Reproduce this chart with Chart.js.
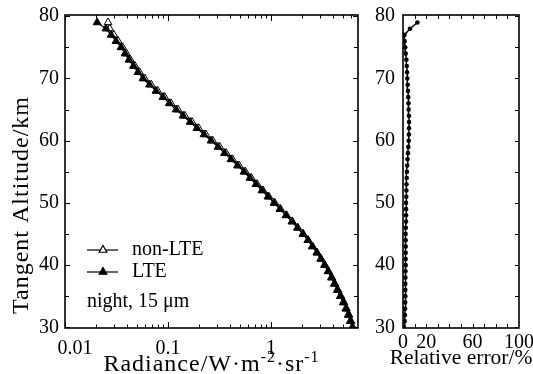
<!DOCTYPE html>
<html>
<head>
<meta charset="utf-8">
<script src="https://cdn.jsdelivr.net/npm/chart.js@4.4.1/dist/chart.umd.min.js"></script>
<style>
  html, body { margin: 0; padding: 0; background: #fff; }
  #wrap { position: relative; width: 533px; height: 374px; overflow: hidden; }
  #left { position: absolute; left: 0; top: 0; }
  #right { position: absolute; left: 375px; top: 0; }
</style>
</head>
<body>
<div id="wrap">
  <canvas id="left" width="375" height="374"></canvas>
  <canvas id="right" width="158" height="374"></canvas>
</div>
<script>
// Tangent altitudes (km), one profile point per km
const altitudes = [30, 31, 32, 33, 34, 35, 36, 37, 38, 39,
                   40, 41, 42, 43, 44, 45, 46, 47, 48, 49,
                   50, 51, 52, 53, 54, 55, 56, 57, 58, 59,
                   60, 61, 62, 63, 64, 65, 66, 67, 68, 69,
                   70, 71, 72, 73, 74, 75, 76, 77, 78, 79];

// Radiance, W m-2 sr-1
const radianceLTE = [6.25, 5.98, 5.72, 5.41, 5.11, 4.78, 4.47, 4.18, 3.91, 3.62,
                     3.34, 3.06, 2.80, 2.53, 2.29, 2.05, 1.81, 1.60, 1.40, 1.22,
                     1.07, 0.935, 0.818, 0.715, 0.625, 0.547, 0.473, 0.409, 0.354, 0.306,
                     0.262, 0.224, 0.191, 0.164, 0.140, 0.120, 0.103, 0.0894, 0.0765, 0.0661,
                     0.0572, 0.0511, 0.0462, 0.0418, 0.0383, 0.0350, 0.0313, 0.0280, 0.0250, 0.0205];

const radianceNonLTE = [6.15, 5.88, 5.62, 5.32, 5.02, 4.70, 4.40, 4.12, 3.86, 3.58,
                        3.31, 3.04, 2.79, 2.52, 2.29, 2.05, 1.82, 1.61, 1.42, 1.24,
                        1.09, 0.955, 0.838, 0.735, 0.645, 0.565, 0.490, 0.424, 0.367, 0.318,
                        0.272, 0.233, 0.199, 0.171, 0.146, 0.125, 0.107, 0.093, 0.0795, 0.0688,
                        0.0594, 0.0530, 0.0478, 0.0432, 0.0396, 0.0363, 0.0328, 0.0298, 0.0272, 0.0262];

// Relative error, %
const relativeError = [0.9, 1.4, 1.7, 1.8, 1.9, 2.0, 2.0, 2.0, 2.1, 2.1,
                       2.3, 2.3, 2.3, 2.3, 2.3, 2.3, 2.4, 2.6, 2.6, 2.6,
                       2.6, 2.8, 2.9, 3.0, 3.2, 3.4, 3.6, 3.9, 4.3, 4.6,
                       4.9, 5.1, 5.2, 5.2, 5.1, 4.9, 4.7, 4.5, 4.3, 4.0,
                       3.7, 3.5, 3.2, 2.9, 2.3, 1.9, 1.4, 1.2, 6.0, 12.4];

// Tick labels and tick marks
const radianceTickLabels = [0.01, 0.1, 1];
const radianceMinorTicks = [0.02, 0.03, 0.04, 0.05, 0.06, 0.07, 0.08, 0.09,
                            0.2, 0.3, 0.4, 0.5, 0.6, 0.7, 0.8, 0.9,
                            2, 3, 4, 5, 6];
const altitudeTickLabels = [30, 40, 50, 60, 70, 80];
const altitudeMinorTicks = [35, 45, 55, 65, 75];
const errorTickLabels = [0, 20, 60, 100];
const errorTickMarks = [10, 20, 30, 40, 50, 60, 70, 80, 90];

const FONT = 'Liberation Serif, "Times New Roman", serif';

function toPoints(xs) {
  return xs.map((v, i) => ({ x: v, y: altitudes[i] }));
}

function fixWidth(w) {
  return function (scale) {
    scale.width = w;
    scale.paddingTop = 0;
    scale.paddingBottom = 0;
  };
}
function fixHeight(h) {
  return function (scale) {
    scale.height = h;
    scale.paddingLeft = 0;
    scale.paddingRight = 0;
  };
}

// box round the plot with ticks pointing inwards
function framePlugin(cfg) {
  return {
    id: 'frame',
    afterDatasetsDraw(chart) {
      const { ctx, chartArea: a, scales: { x, y } } = chart;
      ctx.save();
      ctx.strokeStyle = '#000';
      ctx.lineWidth = 1;
      ctx.beginPath();
      cfg.xTicks.forEach(([v, len]) => {
        const px = Math.round(x.getPixelForValue(v)) + 0.5;
        ctx.moveTo(px, a.bottom); ctx.lineTo(px, a.bottom - len);
        ctx.moveTo(px, a.top); ctx.lineTo(px, a.top + len);
      });
      cfg.yTicks.forEach(([v, len]) => {
        const py = Math.round(y.getPixelForValue(v)) + 0.5;
        if (cfg.yLeft) { ctx.moveTo(a.left, py); ctx.lineTo(a.left + len, py); }
        ctx.moveTo(a.right, py); ctx.lineTo(a.right - len, py);
      });
      ctx.stroke();
      ctx.lineWidth = 1.6;
      ctx.strokeRect(a.left, a.top, a.right - a.left, a.bottom - a.top);
      ctx.restore();
    }
  };
}

function triangle(ctx, x, y, r, filled) {
  ctx.beginPath();
  ctx.moveTo(x, y - r);
  ctx.lineTo(x + r * 0.866, y + r * 0.5);
  ctx.lineTo(x - r * 0.866, y + r * 0.5);
  ctx.closePath();
  ctx.fillStyle = filled ? '#000' : '#fff';
  ctx.fill();
  ctx.stroke();
}

const leftText = {
  id: 'leftText',
  afterDraw(chart) {
    const { ctx, chartArea: a } = chart;
    ctx.save();
    ctx.fillStyle = '#000';
    ctx.strokeStyle = '#000';

    // y title
    ctx.font = '24px ' + FONT;
    ctx.letterSpacing = '1px';
    ctx.textAlign = 'center';
    ctx.textBaseline = 'middle';
    ctx.save();
    ctx.translate(22, 205);
    ctx.rotate(-Math.PI / 2);
    ctx.fillText('Tangent Altitude/km', 0, 0);
    ctx.restore();

    // x title with superscripts
    const parts = [['Radiance/W\u00b7m', false], ['-2', true], ['\u00b7sr', false], ['-1', true]];
    let total = 0;
    parts.forEach(([t, sup]) => {
      ctx.font = (sup ? '16px ' : '24px ') + FONT;
      total += ctx.measureText(t).width;
    });
    let cx = (a.left + a.right) / 2 - total / 2;
    ctx.textAlign = 'left';
    ctx.textBaseline = 'alphabetic';
    parts.forEach(([t, sup]) => {
      ctx.font = (sup ? '16px ' : '24px ') + FONT;
      ctx.fillText(t, cx, sup ? 362 : 371);
      cx += ctx.measureText(t).width;
    });
    ctx.letterSpacing = '0px';

    // legend
    ctx.font = '20px ' + FONT;
    ctx.textBaseline = 'middle';
    ctx.lineWidth = 1.2;
    const rows = [['non-LTE', false, 250], ['LTE', true, 272]];
    rows.forEach(([label, filled, ly]) => {
      ctx.beginPath();
      ctx.moveTo(87, ly); ctx.lineTo(118, ly);
      ctx.stroke();
      triangle(ctx, 103, ly, 4.5, filled);
      ctx.fillStyle = '#000';
      ctx.fillText(label, 132, ly);
    });
    ctx.fillText('night, 15 \u03bcm', 87, 302);
    ctx.restore();
  }
};

const rightText = {
  id: 'rightText',
  afterDraw(chart) {
    const { ctx, chartArea: a } = chart;
    ctx.save();
    ctx.fillStyle = '#000';
    ctx.font = '21.5px ' + FONT;
    ctx.textAlign = 'center';
    ctx.textBaseline = 'alphabetic';
    ctx.fillText('Relative error/%', (a.left + a.right) / 2, 364);
    ctx.restore();
  }
};

const tickFont = { family: FONT, size: 20 };

new Chart(document.getElementById('left'), {
  type: 'scatter',
  data: {
    datasets: [
      {
        label: 'LTE',
        data: toPoints(radianceLTE),
        showLine: true,
        borderColor: '#000',
        borderWidth: 1.2,
        pointStyle: 'triangle',
        pointRadius: 4.5,
        pointBackgroundColor: '#000',
        pointBorderColor: '#000',
        pointBorderWidth: 1
      },
      {
        label: 'non-LTE',
        data: toPoints(radianceNonLTE),
        showLine: true,
        borderColor: '#000',
        borderWidth: 1.2,
        pointStyle: 'triangle',
        pointRadius: 4.5,
        pointBackgroundColor: '#fff',
        pointBorderColor: '#000',
        pointBorderWidth: 1
      }
    ]
  },
  options: {
    responsive: false,
    animation: false,
    layout: { padding: { top: 15, right: 17, bottom: 0, left: 0 } },
    plugins: { legend: { display: false }, tooltip: { enabled: false } },
    scales: {
      x: {
        type: 'logarithmic',
        min: 0.01,
        max: 7,
        grid: { display: false, drawTicks: false },
        border: { display: false },
        afterBuildTicks: (s) => { s.ticks = radianceTickLabels.map(v => ({ value: v })); },
        afterFit: fixHeight(46),
        ticks: {
          color: '#000', font: tickFont, padding: 9, maxRotation: 0,
          // first label sits a little right of the corner
          callback: (v) => (v === 0.01 ? '\u2002\u2002' : '') + String(v)
        }
      },
      y: {
        min: 29.9,
        max: 80.2,
        grid: { display: false, drawTicks: false },
        border: { display: false },
        afterBuildTicks: (s) => { s.ticks = altitudeTickLabels.map(v => ({ value: v })); },
        afterFit: fixWidth(65),
        ticks: { color: '#000', font: tickFont, padding: 6 }
      }
    }
  },
  plugins: [
    framePlugin({
      xTicks: radianceTickLabels.map(v => [v, 6]).concat(radianceMinorTicks.map(v => [v, 3.5])),
      yTicks: altitudeTickLabels.map(v => [v, 5]).concat(altitudeMinorTicks.map(v => [v, 4])),
      yLeft: true
    }),
    leftText
  ]
});

new Chart(document.getElementById('right'), {
  type: 'scatter',
  data: {
    datasets: [{
      label: 'Relative error',
      data: toPoints(relativeError),
      showLine: true,
      borderColor: '#000',
      borderWidth: 1.5,
      pointStyle: 'circle',
      pointRadius: 2.3,
      pointBackgroundColor: '#000',
      pointBorderColor: '#000',
      pointBorderWidth: 0
    }]
  },
  options: {
    responsive: false,
    animation: false,
    layout: { padding: { top: 15, right: 14, bottom: 0, left: 0 } },
    plugins: { legend: { display: false }, tooltip: { enabled: false } },
    scales: {
      x: {
        min: 0,
        max: 100,
        grid: { display: false, drawTicks: false },
        border: { display: false },
        afterBuildTicks: (s) => { s.ticks = errorTickLabels.map(v => ({ value: v })); },
        afterFit: fixHeight(46),
        ticks: { color: '#000', font: tickFont, padding: 3, maxRotation: 0 }
      },
      y: {
        min: 29.9,
        max: 80.2,
        grid: { display: false, drawTicks: false },
        border: { display: false },
        afterBuildTicks: (s) => { s.ticks = altitudeTickLabels.map(v => ({ value: v })); },
        afterFit: fixWidth(28),
        ticks: { color: '#000', font: tickFont, padding: 8 }
      }
    }
  },
  plugins: [
    framePlugin({
      xTicks: errorTickMarks.map(v => [v, 4]),
      yTicks: altitudeTickLabels.map(v => [v, 4]).concat(altitudeMinorTicks.map(v => [v, 4])),
      yLeft: false
    }),
    rightText
  ]
});
</script>
</body>
</html>
